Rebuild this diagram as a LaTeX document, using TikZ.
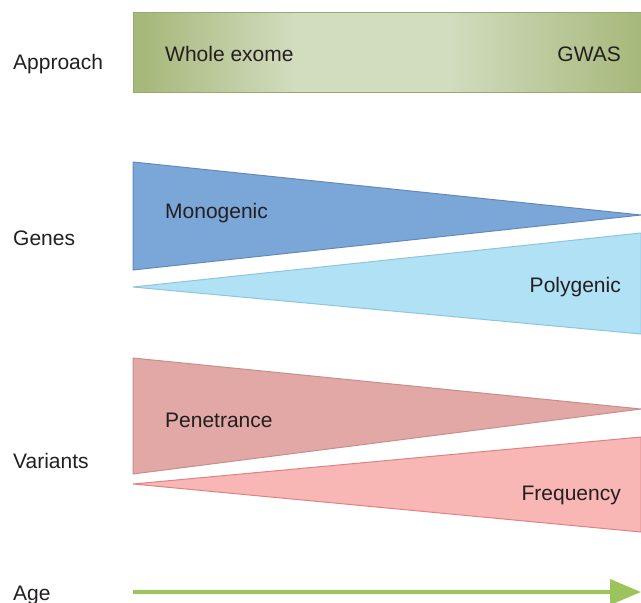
\documentclass[tikz,border=0pt]{standalone}
\usepackage{fontspec}
\setmainfont{Liberation Sans}
\usetikzlibrary{arrows.meta}

\definecolor{txtgray}{HTML}{231F20}
\definecolor{barDark}{HTML}{A7B87B}
\definecolor{barLight}{HTML}{D2DCBF}
\definecolor{barEdge}{HTML}{98A96E}
\definecolor{monoFill}{HTML}{7BA7D8}
\definecolor{monoEdge}{HTML}{6489B6}
\definecolor{polyFill}{HTML}{B1E1F4}
\definecolor{polyEdge}{HTML}{8EC5DC}
\definecolor{peneFill}{HTML}{E1A8A5}
\definecolor{peneEdge}{HTML}{C98E8C}
\definecolor{freqFill}{HTML}{F8B6B4}
\definecolor{freqEdge}{HTML}{DE8283}
\definecolor{ageGreen}{HTML}{9CC45C}

% tikz fits the 25bp--75bp band of the shading onto the path
\pgfdeclarehorizontalshading{barshade}{100bp}{color(0bp)=(barDark); color(26bp)=(barDark); color(41bp)=(barLight); color(56bp)=(barLight); color(75bp)=(barDark); color(100bp)=(barDark)}

\begin{document}
\begin{tikzpicture}[x=1pt, y=-1pt, font=\fontsize{21}{25}\selectfont,
	lbl/.style={anchor=base west, inner sep=0pt, text=txtgray},
	rlbl/.style={anchor=base east, inner sep=0pt, text=txtgray},
	wedge/.style={line width=1pt, line join=miter}]
	\useasboundingbox (0,0) rectangle (641,603);
	% approach bar
	\shadedraw [shading=barshade, draw=barEdge, line width=1pt] (133,12) rectangle (641,92);
	% wedges
	\filldraw [wedge, fill=monoFill, draw=monoEdge] (133,162) -- (641,215) -- (133,270) -- cycle;
	\filldraw [wedge, fill=polyFill, draw=polyEdge] (133,287) -- (641,233) -- (641,334) -- cycle;
	\filldraw [wedge, fill=peneFill, draw=peneEdge] (133,358) -- (641,409) -- (133,474) -- cycle;
	\filldraw [wedge, fill=freqFill, draw=freqEdge] (133,484) -- (641,437) -- (641,532) -- cycle;
	% age arrow
	\coordinate (agestart) at (133,592);
	\coordinate (ageend) at (641,592);
	\draw [ageGreen, line width=4pt, -{Triangle[length=31pt, width=25pt]}] (agestart) -- (ageend);
	% labels
	\node[lbl] (approach) at (13,69) {Approach};
	\node[lbl] (genes) at (13,245) {Genes};
	\node[lbl] (variants) at (13,468) {Variants};
	\node[lbl] (age) at (13,600) {Age};
	\node[lbl] (exome) at (165,61) {Whole exome};
	\node[rlbl] (gwas) at (621,61) {GWAS};
	\node[lbl] (mono) at (165,218) {Monogenic};
	\node[rlbl] (poly) at (621,292) {Polygenic};
	\node[lbl] (pene) at (165,427) {Penetrance};
	\node[rlbl] (freq) at (621,500) {Frequency};
\end{tikzpicture}
\end{document}
